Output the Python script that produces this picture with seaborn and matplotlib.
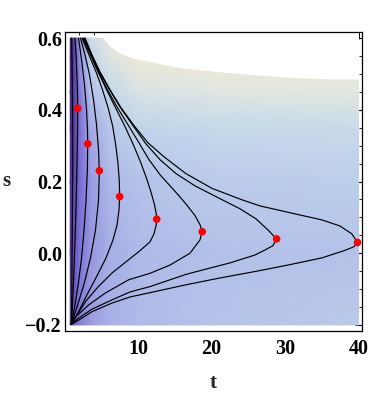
import numpy as np
import pandas as pd
import matplotlib
matplotlib.use("Agg")
import matplotlib.pyplot as plt
from matplotlib.colors import LinearSegmentedColormap
from matplotlib.ticker import MultipleLocator
import seaborn as sns

# contour curves (t, s)
c0_t = [0.93, 0.99, 1.06, 1.09, 1.09, 1.06, 1.03, 0.99, 0.97, 0.93, 0.90]
c0_s = [0.600, 0.539, 0.428, 0.344, 0.232, 0.149, 0.065, -0.019, -0.103, -0.159, -0.198]
c1_t = [1.40, 1.58, 1.71, 1.77, 1.74, 1.67, 1.58, 1.47, 1.33, 1.20, 1.06, 0.90]
c1_s = [0.600, 0.539, 0.470, 0.404, 0.330, 0.246, 0.163, 0.079, -0.005, -0.080, -0.144, -0.198]
c2_t = [1.88, 2.29, 2.69, 2.97, 3.10, 3.13, 3.08, 2.90, 2.63, 2.29, 1.88, 1.40, 0.90]
c2_s = [0.600, 0.539, 0.470, 0.400, 0.344, 0.305, 0.232, 0.149, 0.065, -0.013, -0.080, -0.144, -0.198]
c3_t = [2.15, 2.76, 3.37, 3.92, 4.33, 4.60, 4.71, 4.60, 4.19, 3.51, 2.63, 1.67, 0.90]
c3_s = [0.600, 0.553, 0.498, 0.428, 0.358, 0.288, 0.230, 0.149, 0.065, -0.013, -0.086, -0.150, -0.198]
c4_t = [2.35, 3.31, 4.26, 5.14, 5.90, 6.51, 6.92, 7.23, 7.42, 7.48, 7.39, 7.12, 6.57, 5.62, 4.39,
        3.03, 1.81, 0.90]
c4_s = [0.600, 0.553, 0.506, 0.456, 0.406, 0.356, 0.305, 0.255, 0.205, 0.158, 0.121, 0.079, 0.037,
        -0.013, -0.063, -0.116, -0.166, -0.198]
c5_t = [2.49, 3.51, 4.53, 5.69, 6.91, 8.14, 9.29, 10.31, 11.12, 11.74, 12.22, 12.46, 12.52, 12.42, 12.15,
        11.61, 10.24, 8.34, 6.44, 4.53, 2.90, 1.67, 0.90]
c5_s = [0.600, 0.553, 0.506, 0.456, 0.406, 0.356, 0.305, 0.255, 0.210, 0.171, 0.135, 0.110, 0.095, 0.076,
        0.054, 0.032, 0.007, -0.024, -0.055, -0.094, -0.133, -0.172, -0.198]
c6_t = [2.63, 3.58, 4.60, 5.82, 7.18, 8.68, 10.11, 11.47, 12.97, 14.33, 15.56, 16.64, 17.73, 18.41, 18.72,
        18.54, 18.41, 17.05, 14.33, 11.61, 8.71, 5.52, 3.27, 1.44, 0.90]
c6_s = [0.600, 0.553, 0.506, 0.456, 0.406, 0.356, 0.308, 0.261, 0.219, 0.188, 0.160, 0.134, 0.105, 0.080, 0.060,
        0.048, 0.037, 0.000, -0.033, -0.056, -0.074, -0.111, -0.144, -0.178, -0.198]
c7_t = [2.69, 3.65, 4.73, 6.10, 7.59, 9.29, 11.06, 12.97, 15.15, 17.73, 20.86, 23.86, 26.03, 27.66, 28.84,
        28.34, 27.25, 25.89, 22.49, 19.09, 16.50, 11.61, 8.88, 6.44, 3.71, 1.90, 0.90]
c7_s = [0.600, 0.553, 0.506, 0.456, 0.406, 0.356, 0.305, 0.261, 0.222, 0.188, 0.155, 0.124, 0.096, 0.065, 0.040,
        0.021, 0.009, -0.005, -0.027, -0.045, -0.059, -0.093, -0.108, -0.130, -0.156, -0.181, -0.198]
c8_t = [2.76, 3.71, 4.80, 6.16, 7.66, 9.43, 11.33, 13.51, 16.50, 20.04, 23.99, 26.57, 30.65, 35.01, 37.46,
        39.09, 39.86, 39.36, 38.14, 35.01, 30.38, 25.89, 21.13, 16.50, 11.61, 8.88, 6.44, 3.71, 1.95, 0.90]
c8_s = [0.600, 0.553, 0.506, 0.456, 0.406, 0.356, 0.308, 0.269, 0.222, 0.181, 0.150, 0.132, 0.113, 0.093, 0.076,
        0.054, 0.030, 0.018, 0.008, -0.013, -0.033, -0.051, -0.069, -0.088, -0.110, -0.122, -0.139, -0.163,
        -0.186, -0.198]

# turning points (red dots)
dot_t = [1.77, 3.13, 4.71, 7.48, 12.52, 18.72, 28.84, 39.86]
dot_s = [0.404, 0.305, 0.230, 0.158, 0.095, 0.060, 0.040, 0.030]

# upper edge of the shaded domain
edge_t = [5.2, 6.2, 7.5, 9.3, 11.6, 14.7, 16.4, 20.6, 25.6, 30.1, 36.5, 40.0]
edge_s = [0.600, 0.577, 0.558, 0.544, 0.535, 0.521, 0.516, 0.507, 0.498, 0.491, 0.486, 0.486]

# background shade (0 = dark purple, 1 = beige), rows follow field_s
field_t = [0.75, 1.2, 2.0, 3.5, 6.0, 10.0, 20.0, 40.0]
field_s = [-0.2, 0.0, 0.2, 0.35, 0.45, 0.55, 0.6]
field_v = [
    [0.12, 0.22, 0.33, 0.42, 0.48, 0.52, 0.57, 0.61],
    [0.07, 0.17, 0.29, 0.40, 0.47, 0.51, 0.55, 0.57],
    [0.03, 0.12, 0.27, 0.41, 0.50, 0.56, 0.62, 0.64],
    [0.01, 0.09, 0.28, 0.46, 0.58, 0.67, 0.70, 0.72],
    [0.00, 0.08, 0.32, 0.55, 0.69, 0.80, 0.83, 0.85],
    [0.00, 0.08, 0.38, 0.66, 0.82, 0.95, 0.97, 0.97],
    [0.00, 0.09, 0.42, 0.73, 0.88, 1.00, 1.00, 1.00],
]

curves = [(c0_t, c0_s), (c1_t, c1_s), (c2_t, c2_s), (c3_t, c3_s), (c4_t, c4_s),
          (c5_t, c5_s), (c6_t, c6_s), (c7_t, c7_s), (c8_t, c8_s)]
rows = []
for k, (tt, ss) in enumerate(curves):
    for a, b in zip(tt, ss):
        rows.append((k, a, b))
df = pd.DataFrame(rows, columns=["curve", "t", "s"])
dots = pd.DataFrame({"t": dot_t, "s": dot_s})

lake = LinearSegmentedColormap.from_list("lake", [
    (0.00, (0.27, 0.14, 0.52)),
    (0.25, (0.45, 0.39, 0.82)),
    (0.50, (0.68, 0.72, 0.91)),
    (0.70, (0.77, 0.85, 0.92)),
    (0.85, (0.89, 0.91, 0.88)),
    (1.00, (0.96, 0.92, 0.82)),
])

sns.set_style("white")
plt.rcParams["font.family"] = ["Liberation Serif", "DejaVu Serif"]
plt.rcParams["font.weight"] = "bold"

fig = plt.figure(figsize=(3.72, 3.94), dpi=100)
ax = fig.add_axes([0.174, 0.1607, 0.798, 0.759])

ax.pcolormesh(field_t, field_s, np.array(field_v), shading="gouraud", cmap=lake,
              vmin=0, vmax=1, zorder=1, rasterized=True)
ax.fill_between(edge_t, edge_s, 0.62, color="white", lw=0, zorder=1.5)

sns.lineplot(data=df, x="t", y="s", units="curve", estimator=None, sort=False,
             color="black", lw=0.85, ax=ax, zorder=2, legend=False)
sns.scatterplot(data=dots, x="t", y="s", color="red", s=30, edgecolor="none", ax=ax, zorder=3)

ax.set_xlim(0, 40.41)
ax.set_ylim(-0.216, 0.618)
ax.xaxis.set_minor_locator(MultipleLocator(2))
ax.yaxis.set_minor_locator(MultipleLocator(0.05))
ax.set_xticks([10, 20, 30, 40])
ax.set_xticklabels(["10", "20", "30", "40"])
ax.set_yticks([-0.2, 0.0, 0.2, 0.4, 0.6])
ax.set_yticklabels(["\u22120.2", "0.0", "0.2", "0.4", "0.6"])
ax.tick_params(which="both", direction="in", top=True, right=True, labelsize=14.5, colors="black")
ax.tick_params(which="major", length=5, width=0.8)
ax.tick_params(which="minor", length=2.5, width=0.6)
ax.tick_params(axis="x", pad=6)
ax.tick_params(axis="y", pad=2)
for sp in ax.spines.values():
    sp.set_color("black")
    sp.set_linewidth(0.9)

ax.set_xlabel("t", fontsize=15, fontweight="bold", labelpad=10)
ax.set_ylabel("s", fontsize=15, fontweight="bold", rotation=0, va="center", ha="center")
ax.yaxis.set_label_coords(-0.195, 0.5)

fig.savefig("out.png", dpi=100)
